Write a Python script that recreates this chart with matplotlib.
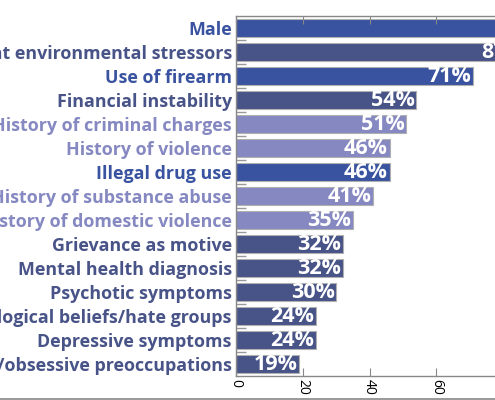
import matplotlib
matplotlib.use('Agg')
import matplotlib.pyplot as plt

labels = ['Male', 'Significant environmental stressors', 'Use of firearm',
          'Financial instability', 'History of criminal charges',
          'History of violence', 'Illegal drug use', 'History of substance abuse',
          'History of domestic violence', 'Grievance as motive',
          'Mental health diagnosis', 'Psychotic symptoms',
          'Ideological beliefs/hate groups', 'Depressive symptoms',
          'Suicidal/obsessive preoccupations']
values = [96, 87, 71, 54, 51, 46, 46, 41, 35, 32, 32, 30, 24, 24, 19]
groups = ['a', 'b', 'a', 'b', 'c', 'c', 'a', 'c', 'c', 'b', 'b', 'b', 'b', 'b', 'b']
xticks = [0, 20, 40, 60]

colors = {'a': '#3953a0', 'b': '#485388', 'c': '#8588c1'}

fig = plt.figure(figsize=(4.95, 4.0), dpi=100)
# axes runs past the right edge, the picture is a crop
ax = fig.add_axes([236 / 495, 24 / 400, 334 / 495, 360 / 400])

pos = list(range(len(labels)))
bar_colors = [colors[g] for g in groups]
ax.barh(pos, values, height=0.72, color=bar_colors, edgecolor='#b0b0b0', linewidth=0.8)

for p, v in zip(pos, values):
    ax.text(v - 0.5, p, f'{v}%', ha='right', va='center', color='white',
            fontsize=15.5, fontweight='bold', family='Open Sans')

ax.set_xlim(0, 100)
ax.set_ylim(len(labels) - 0.5, -0.5)

ax.set_yticks(pos)
ax.set_yticklabels(labels, fontsize=12.9, fontweight='bold', family='Open Sans')
for t, c in zip(ax.get_yticklabels(), bar_colors):
    t.set_color(c)
ax.tick_params(axis='y', which='major', length=0, pad=3)
ax.set_yticks([p + 0.5 for p in pos[:-1]], minor=True)
ax.tick_params(axis='y', which='minor', direction='in', length=7, color='#999999', width=1)

ax.set_xticks(xticks + [80, 100])
ax.set_xticklabels([str(x) for x in xticks] + ['', ''], rotation=270, fontsize=10,
                   family='Open Sans')
ax.tick_params(axis='x', direction='in', length=6, color='#888888', top=True, pad=2)

for s in ax.spines.values():
    s.set_color('#888888')
    s.set_linewidth(1)

fig.add_artist(plt.Line2D([0, 1], [1.5 / 400, 1.5 / 400], color='#888888', linewidth=1.2))

fig.savefig('out.png', dpi=100)
